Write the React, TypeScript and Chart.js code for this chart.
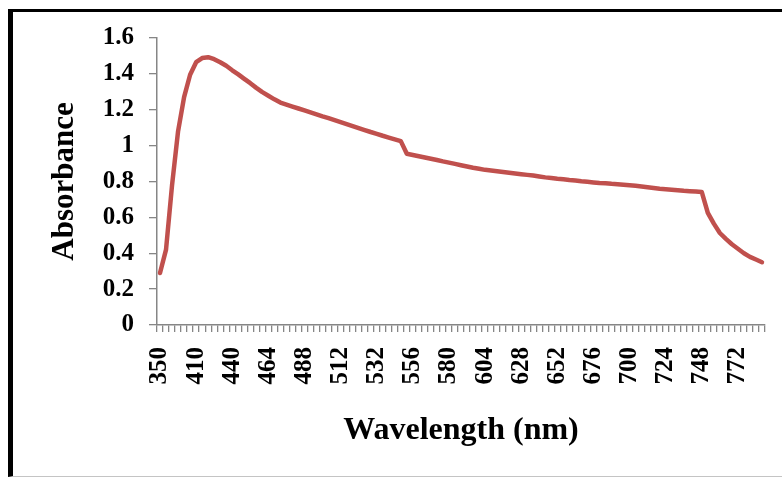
import { useEffect, useRef } from 'react';
import { Chart, registerables } from 'chart.js';

Chart.register(...registerables);

// Wavelength categories (nm)
const wavelengths = [
  350, 360, 370, 380, 390, 400, 410,
  415, 420, 425, 430, 435, 440,
  444, 448, 452, 456, 460, 464,
  468, 472, 476, 480, 484, 488,
  492, 496, 500, 504, 508, 512,
  515, 518, 521, 524, 528, 532,
  536, 540, 544, 548, 552, 556,
  560, 564, 568, 572, 576, 580,
  584, 588, 592, 596, 600, 604,
  608, 612, 616, 620, 624, 628,
  632, 636, 640, 644, 648, 652,
  656, 660, 664, 668, 672, 676,
  680, 684, 688, 692, 696, 700,
  704, 708, 712, 716, 720, 724,
  728, 732, 736, 740, 744, 748,
  752, 756, 760, 764, 768, 772,
  776, 780, 784, 788,
];

// Absorbance values
const absorbance = [
  0.29, 0.42, 0.78, 1.08, 1.27, 1.395, 1.465,
  1.488, 1.493, 1.482, 1.465, 1.445, 1.42,
  1.397, 1.372, 1.348, 1.322, 1.298, 1.278,
  1.258, 1.24, 1.229, 1.218, 1.207, 1.196,
  1.185, 1.174, 1.163, 1.153, 1.142, 1.131,
  1.12, 1.109, 1.098, 1.087, 1.076, 1.066,
  1.055, 1.045, 1.035, 1.025, 0.955, 0.948,
  0.941, 0.934, 0.927, 0.92, 0.912, 0.905,
  0.898, 0.891, 0.884, 0.877, 0.871, 0.865,
  0.861, 0.857, 0.853, 0.849, 0.845, 0.841,
  0.837, 0.833, 0.828, 0.823, 0.819, 0.815,
  0.812, 0.808, 0.805, 0.801, 0.798, 0.795,
  0.792, 0.79, 0.787, 0.785, 0.782, 0.779,
  0.776, 0.772, 0.768, 0.764, 0.76, 0.757,
  0.754, 0.751, 0.748, 0.746, 0.744, 0.741,
  0.625, 0.565, 0.513, 0.48, 0.45, 0.425,
  0.4, 0.38, 0.365, 0.35,
];

const labelEvery = 6;
const yMin = 0;
const yMax = 1.6;
const yStep = 0.2;

const FONT = "'Liberation Serif', 'Times New Roman', serif";
const AXIS = '#868686';

export default function App() {
  const ref = useRef<HTMLCanvasElement>(null);

  useEffect(() => {
    const chart = new Chart(ref.current!, {
      type: 'line',
      data: {
        labels: wavelengths.map(String),
        datasets: [
          {
            data: absorbance,
            borderColor: '#C0504D',
            backgroundColor: '#C0504D',
            borderWidth: 4.5,
            pointRadius: 0,
            tension: 0,
            borderJoinStyle: 'round',
            borderCapStyle: 'round',
            fill: false,
          },
        ],
      },
      options: {
        animation: false,
        responsive: false,
        plugins: { legend: { display: false }, tooltip: { enabled: false } },
        layout: { padding: { left: 0, top: 38, right: 17, bottom: 10 } },
        scales: {
          x: {
            type: 'category',
            offset: true,
            grid: {
              display: true,
              drawOnChartArea: false,
              drawTicks: true,
              tickLength: 7,
              color: AXIS,
              lineWidth: 1.3,
              offset: true,
            },
            border: { color: AXIS, width: 1.5 },
            ticks: {
              autoSkip: false,
              maxRotation: 90,
              minRotation: 90,
              padding: 15,
              color: '#000',
              font: { family: FONT, size: 25, weight: 'bold' },
              callback: (_v: any, i: number) => (i % labelEvery === 0 ? String(wavelengths[i]) : ''),
            },
            title: {
              display: true,
              text: 'Wavelength (nm)',
              color: '#000',
              font: { family: FONT, size: 32, weight: 'bold' },
              padding: { top: 0, bottom: 17 },
            },
            afterFit: (s: any) => {
              s.height = 142;
              s.paddingLeft = 0;
              s.paddingRight = 0;
            },
          },
          y: {
            min: yMin,
            max: yMax,
            grid: {
              display: true,
              drawOnChartArea: false,
              drawTicks: true,
              tickLength: 8,
              color: AXIS,
              lineWidth: 1.3,
            },
            border: { color: AXIS, width: 1.5 },
            ticks: {
              stepSize: yStep,
              padding: 15,
              color: '#000',
              font: { family: FONT, size: 25, weight: 'bold' },
              callback: (v: any) => String(+Number(v).toFixed(1)),
            },
            title: {
              display: true,
              text: 'Absorbance',
              color: '#000',
              font: { family: FONT, size: 31, weight: 'bold' },
              padding: { top: 46, bottom: 0 },
            },
            afterFit: (s: any) => {
              s.width = 157;
              s.paddingTop = 0;
              s.paddingBottom = 0;
            },
          },
        },
      },
    } as any);
    return () => chart.destroy();
  }, []);

  return (
    <div
      style={{
        position: 'fixed',
        left: 0,
        top: 0,
        width: 782,
        height: 477,
        background: '#fff',
        overflow: 'hidden',
      }}
    >
      <div
        style={{
          position: 'absolute',
          left: 8,
          top: 9,
          width: 900,
          height: 468,
          boxSizing: 'border-box',
          borderLeft: '5px solid #000',
          borderTop: '3px solid #000',
          borderBottom: '1px solid #c4c4c4',
        }}
      />
      <canvas
        ref={ref}
        width={782}
        height={477}
        style={{ position: 'absolute', left: 0, top: 0, width: 782, height: 477 }}
      />
    </div>
  );
}
